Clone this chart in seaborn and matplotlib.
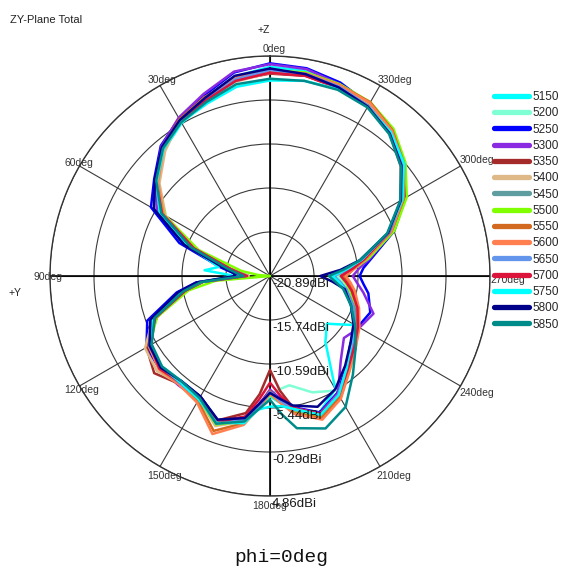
import numpy as np
import pandas as pd
import seaborn as sns
import matplotlib.pyplot as plt

sns.set_style('white')
plt.rcParams['font.family'] = ['Liberation Sans', 'DejaVu Sans']

# radial scale (dBi)
R_MIN = -20.89
R_MAX = 4.86
ring_values = [-20.89, -15.74, -10.59, -5.44, -0.29, 4.86]

# angles of the traced points (deg, counter-clockwise from +Z)
angles_deg = [0, 10, 20, 30, 40, 50, 60, 70, 80, 85, 90, 95, 100, 110, 120, 130, 140, 150, 160, 170,
              175, 180, 185, 190, 200, 210, 220, 230, 240, 250, 260, 265, 270, 275, 280, 290, 300, 310,
              320, 330, 340, 350]

freqs = ['5150', '5200', '5250', '5300', '5350', '5400', '5450', '5500',
         '5550', '5600', '5650', '5700', '5750', '5800', '5850']
colors = ['#00FFFF', '#7FFFD4', '#0000FF', '#8A2BE2', '#A52A2A', '#DEB887', '#5F9EA0', '#7FFF00',
          '#D2691E', '#FF7F50', '#6495ED', '#DC143C', '#00FFFF', '#00008B', '#008B8B']

g5150 = [3.6, 2.8, 0.8, -0.2, -1.6, -3.7, -6.0, -10.6, -15.2, -16.6, -17.6, -12.4, -10.0, -6.0, -4.6, -4.4, -4.8, -4.3, -2.4, -3.6, -5.2, -6.8, -5.9, -4.9, -3.9, -5.6, -10.8, -12.2, -9.4, -10.6, -11.8, -12.6, -13.4, -11.6, -9.5, -5.5, -2.6, -0.3, 1.3, 2.4, 3.0, 3.5]
g5200 = [3.0, 2.4, 1.0, 0.0, -1.5, -3.6, -6.4, -11.0, -15.8, -17.0, -17.8, -12.6, -10.4, -6.2, -4.6, -4.1, -4.5, -4.5, -2.6, -3.7, -5.5, -7.0, -7.6, -7.9, -6.4, -5.4, -6.6, -8.0, -9.0, -10.2, -11.4, -12.2, -13.0, -11.3, -9.6, -5.7, -2.8, -0.4, 1.2, 2.3, 2.7, 3.1]
g5250 = [4.0, 3.3, 1.6, 0.4, -1.0, -3.2, -4.8, -9.6, -15.0, -16.5, -17.5, -12.2, -9.8, -5.6, -4.2, -4.0, -4.8, -4.6, -2.9, -4.1, -5.8, -7.4, -6.5, -5.3, -3.9, -5.1, -7.0, -8.6, -9.0, -8.4, -9.2, -9.9, -10.4, -9.9, -8.8, -5.4, -2.6, -0.5, 1.1, 2.3, 3.2, 3.8]
g5300 = [3.9, 3.4, 1.8, 0.5, -1.1, -3.4, -5.6, -10.4, -15.6, -17.0, -17.8, -12.6, -10.2, -6.0, -4.5, -4.1, -4.2, -4.2, -2.8, -3.9, -5.7, -7.6, -6.4, -5.2, -3.8, -5.0, -8.0, -9.6, -8.8, -8.0, -9.8, -10.6, -11.2, -10.4, -9.0, -5.6, -2.8, -0.7, 1.0, 2.1, 3.0, 3.7]
g5350 = [2.8, 2.4, 1.2, 0.3, -1.3, -3.6, -6.6, -11.4, -16.2, -17.6, -18.4, -13.0, -10.8, -6.8, -4.2, -3.2, -4.4, -4.6, -2.9, -4.6, -7.0, -9.9, -7.4, -5.2, -3.6, -4.6, -6.6, -8.0, -9.2, -10.4, -11.2, -11.8, -12.0, -11.0, -9.6, -6.0, -3.2, -0.8, 1.0, 2.2, 2.6, 2.9]
g5400 = [2.9, 2.2, 1.4, 0.2, -1.8, -4.0, -6.8, -11.6, -16.4, -17.8, -18.4, -12.8, -10.4, -6.3, -4.0, -3.6, -4.4, -4.2, -2.2, -3.6, -5.5, -7.0, -6.0, -4.8, -3.4, -4.6, -6.7, -8.1, -9.3, -10.5, -11.2, -11.6, -12.2, -11.0, -9.6, -6.0, -3.1, -0.7, 1.2, 2.4, 2.8, 3.0]
g5450 = [3.0, 2.3, 0.9, 0.0, -1.4, -3.4, -6.1, -11.2, -16.2, -17.6, -18.2, -13.0, -10.8, -6.6, -4.8, -4.3, -4.7, -4.4, -2.6, -3.8, -5.6, -7.3, -6.3, -5.1, -3.4, -4.7, -6.9, -8.3, -9.3, -10.4, -11.8, -12.8, -13.8, -12.0, -10.0, -6.0, -3.0, -0.6, 1.0, 2.1, 2.6, 3.0]
g5500 = [3.2, 2.6, 1.2, 0.1, -1.4, -3.6, -6.6, -12.0, -17.5, -19.5, -23.0, -14.5, -11.2, -6.8, -4.6, -4.0, -4.4, -4.2, -2.4, -3.6, -5.4, -7.0, -6.0, -4.8, -3.2, -4.4, -6.4, -7.8, -8.9, -10.0, -11.4, -12.0, -12.6, -11.0, -9.2, -5.4, -2.4, -0.2, 1.6, 2.6, 3.0, 3.3]
g5550 = [3.0, 2.6, 1.4, 0.3, -1.3, -3.6, -6.4, -11.4, -16.2, -17.4, -18.0, -12.9, -10.6, -6.5, -4.6, -4.0, -4.4, -4.0, -1.6, -3.4, -5.6, -7.4, -6.0, -4.6, -3.2, -4.5, -6.5, -7.9, -9.0, -10.0, -11.0, -11.6, -12.4, -11.2, -9.6, -5.8, -2.8, -0.4, 1.4, 2.6, 2.9, 3.1]
g5600 = [3.1, 2.7, 1.3, 0.2, -1.5, -3.8, -6.5, -11.3, -16.0, -17.2, -17.9, -12.8, -10.5, -6.4, -4.5, -3.9, -4.3, -3.8, -1.2, -3.2, -5.3, -7.1, -5.9, -4.5, -3.0, -4.3, -6.4, -7.8, -8.8, -9.8, -10.8, -11.4, -12.0, -11.0, -9.5, -5.8, -2.9, -0.5, 1.3, 2.5, 2.9, 3.2]
g5650 = [3.2, 2.5, 1.1, 0.1, -1.3, -3.4, -6.0, -11.0, -15.8, -17.2, -18.0, -12.7, -10.5, -6.4, -4.7, -4.2, -4.5, -4.3, -2.5, -3.8, -5.5, -7.3, -6.2, -5.0, -3.6, -4.9, -6.9, -8.3, -9.4, -10.6, -11.8, -12.6, -13.4, -11.6, -9.9, -6.0, -3.1, -0.7, 1.0, 2.1, 2.7, 3.1]
g5700 = [2.9, 2.3, 1.0, 0.0, -1.4, -3.5, -6.3, -11.4, -16.2, -17.4, -18.2, -13.0, -10.8, -6.6, -4.7, -4.0, -4.6, -4.5, -2.7, -4.2, -6.4, -8.4, -6.8, -5.2, -3.7, -4.8, -6.7, -8.0, -9.0, -10.0, -11.2, -11.9, -12.6, -11.2, -9.7, -6.1, -3.2, -0.9, 0.9, 2.0, 2.5, 2.9]
g5750 = [2.0, 1.6, 0.6, -0.1, -1.5, -3.6, -6.0, -10.8, -14.8, -13.2, -16.8, -12.8, -10.4, -6.3, -4.6, -4.3, -4.6, -4.2, -2.6, -3.4, -5.2, -5.6, -5.6, -5.1, -3.6, -4.8, -6.9, -8.5, -9.6, -10.8, -12.0, -12.8, -13.6, -11.9, -10.0, -6.2, -3.0, -0.4, 1.1, 2.0, 2.4, 2.3]
g5800 = [3.4, 2.9, 1.3, 0.2, -1.2, -3.3, -5.2, -10.2, -15.4, -16.6, -16.8, -12.3, -10.0, -6.0, -4.6, -4.2, -4.8, -4.6, -3.0, -4.0, -5.8, -7.2, -6.4, -5.5, -4.6, -5.6, -7.2, -8.6, -9.6, -10.8, -12.0, -13.6, -15.0, -12.6, -10.2, -6.2, -3.2, -0.8, 0.9, 2.0, 2.6, 3.1]
g5850 = [2.2, 1.9, 0.8, -0.1, -1.4, -3.5, -6.2, -11.0, -15.8, -17.0, -17.8, -12.8, -10.6, -6.5, -4.9, -4.4, -4.8, -4.4, -2.5, -3.6, -5.2, -6.4, -4.6, -2.8, -1.9, -3.2, -5.8, -7.8, -9.4, -10.8, -12.2, -13.2, -14.0, -12.2, -10.2, -6.3, -3.3, -0.9, 0.8, 1.9, 2.3, 2.3]

gains = [g5150, g5200, g5250, g5300, g5350, g5400, g5450, g5500,
         g5550, g5600, g5650, g5700, g5750, g5800, g5850]

# long-form table, each curve closed back on its first point
rows = []
for f, vals in zip(freqs, gains):
    assert len(vals) == len(angles_deg), f
    for a, v in zip(angles_deg + [360], vals + [vals[0]]):
        rows.append((f, np.deg2rad(a), max(v, R_MIN)))
df = pd.DataFrame(rows, columns=['freq', 'theta', 'gain'])

fig = plt.figure(figsize=(5.63, 5.70), dpi=100)
fig.patch.set_facecolor('white')
ax = fig.add_axes([50 / 563, 1 - 496 / 570, 440 / 563, 440 / 570], projection='polar')
ax.set_theta_zero_location('N')
ax.set_theta_direction(1)

sns.lineplot(data=df, x='theta', y='gain', hue='freq', hue_order=freqs,
             palette=dict(zip(freqs, colors)), sort=False, estimator=None,
             lw=1.8, ax=ax)

ax.set_rlim(R_MIN, R_MAX)
ax.set_rticks(ring_values[1:])
ax.set_yticklabels([])
ax.set_xticks(np.deg2rad(np.arange(0, 360, 30)))
ax.set_xticklabels([])
ax.set_xlabel('')
ax.set_ylabel('')
ax.grid(True, color='#3a3a3a', lw=0.8)
ax.spines['polar'].set_color('#333333')
ax.spines['polar'].set_linewidth(1.0)
for a in [0, 90]:
    ax.axvline(np.deg2rad(a), color='black', lw=1.2, zorder=1)
    ax.axvline(np.deg2rad(a + 180), color='black', lw=1.2, zorder=1)

# angle labels around the rim
angle_offsets = {0: (4, 7, 'center'), 30: (2, 5, 'center'), 60: (-1, 3, 'center'),
                 90: (-2, -1, 'center'), 120: (2, -4, 'center'), 150: (5, -9, 'center'),
                 180: (0, -10, 'center'), 210: (-4, -9, 'left'), 240: (-1, -7, 'left'),
                 270: (0, -4, 'left'), 300: (-1, 6, 'left'), 330: (-2, 5, 'left')}
for a, (dx, dy, ha) in angle_offsets.items():
    ax.annotate(f'{a}deg', xy=(np.deg2rad(a), R_MAX), xytext=(dx, dy),
                textcoords='offset pixels', ha=ha, va='center',
                fontsize=7.5, color='#333333', annotation_clip=False)

# ring labels along the 180deg spoke
for rv in ring_values:
    ax.annotate(f'{rv:.2f}dBi', xy=(np.pi, rv), xytext=(2, -2),
                textcoords='offset pixels', ha='left', va='top',
                fontsize=9.5, color='#1a1a1a', annotation_clip=False)

fig.text(10 / 563, 1 - 20 / 570, 'ZY-Plane Total', fontsize=8, color='#222222', va='center')
fig.text(264 / 563, 1 - 30 / 570, '+Z', fontsize=7.5, color='#222222', ha='center', va='center')
fig.text(15 / 563, 1 - 293 / 570, '+Y', fontsize=7.5, color='#222222', ha='center', va='center')
fig.text(281 / 563, 1 - 558 / 570, 'phi=0deg', fontsize=14, family=['Liberation Mono', 'DejaVu Sans Mono'],
         color='#111111', ha='center', va='center')

handles, labels = ax.get_legend_handles_labels()
ax.get_legend().remove()
leg = fig.legend(handles, labels, loc='upper left', bbox_to_anchor=(494 / 563, 1 - 91 / 570),
                 frameon=False, fontsize=8.5, handlelength=2.95, handletextpad=0.35,
                 labelspacing=0.36, borderpad=0, borderaxespad=0)
for line in leg.get_lines():
    line.set_linewidth(3.8)

fig.savefig('out.png', dpi=100, facecolor='white')
